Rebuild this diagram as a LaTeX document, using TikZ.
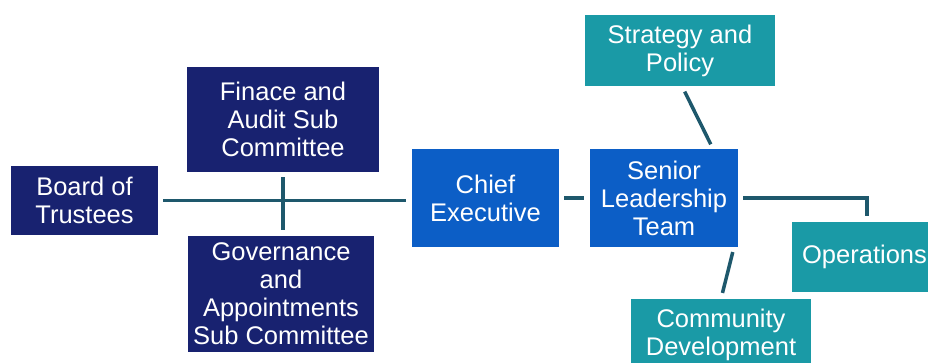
\documentclass[tikz,border=0pt]{standalone}
\usepackage{fontspec}
\setmainfont{Liberation Sans}
\usetikzlibrary{calc}

\definecolor{navybox}{RGB}{24,34,112}
\definecolor{bluebox}{RGB}{12,94,198}
\definecolor{tealbox}{RGB}{26,154,166}
\definecolor{linkline}{RGB}{30,88,108}

\tikzset{
	unit/.style={rectangle, inner sep=0pt, text=white, align=center,
		font=\fontsize{25.5}{28}\selectfont},
	board/.style={unit, fill=navybox},
	exec/.style={unit, fill=bluebox},
	dept/.style={unit, fill=tealbox},
	link/.style={draw=linkline, line width=3.5pt, shorten >=6pt, shorten <=5pt}
}

\begin{document}
\begin{tikzpicture}[x=1pt, y=-1pt]
			%%%%% START %%%%%
			
			\clip (0, 0) rectangle (928, 363);
			
			\node[board, minimum width=147, minimum height=69] (trustees) at (84.5, 200.5) {Board of\\Trustees};
			\node[board, minimum width=192, minimum height=105] (finance) at (283, 119.5) {Finace and\\Audit Sub\\Committee};
			\node[board, minimum width=186, minimum height=116] (governance) at (281, 294) {Governance\\and\\Appointments\\Sub Committee};
			
			\node[exec, minimum width=147, minimum height=98] (chief) at (485.5, 198) {Chief\\Executive};
			\node[exec, minimum width=148, minimum height=98] (slt) at (664, 198) {Senior\\Leadership\\Team};
			
			\node[dept, minimum width=190, minimum height=71] (strategy) at (680, 50.5) {Strategy and\\Policy};
			\node[dept, minimum width=145, minimum height=70] (operations) at (864.5, 257) {Operations};
			\node[dept, minimum width=180, minimum height=71] (community) at (721, 334.5) {Community\\Development};
			
			\draw[link] (trustees.east) -- (trustees.east -| chief.west);
			\draw[link] (finance.south) -- (finance.south |- governance.north);
			\draw[link] (chief.east) -- (slt.west);
			\draw[link] (slt.east) -| ([xshift=2.5pt]operations.north);
			\draw[link] ([xshift=49pt]slt.north) -- ([xshift=2pt]strategy.south);
			\draw[link] ([xshift=70pt]slt.south) -- (community.north);
			
			%%%%% END %%%%%
		\end{tikzpicture}
\end{document}
